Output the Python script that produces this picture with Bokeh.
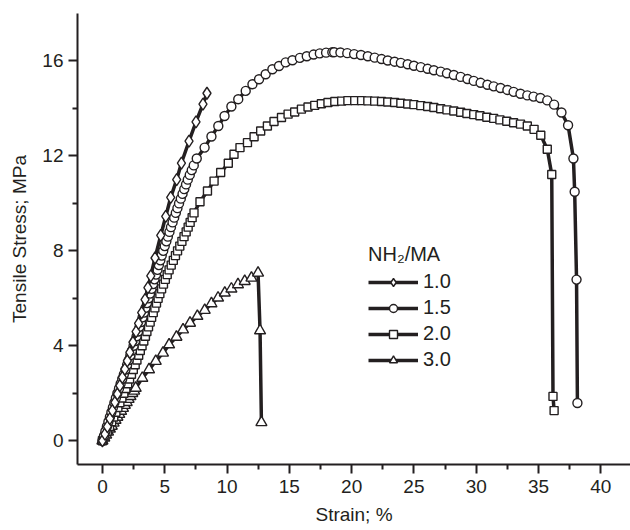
from bokeh.plotting import figure
from bokeh.models import FixedTicker, Range1d, Legend, LegendItem
from bokeh.embed import file_html
from bokeh.resources import INLINE

# ---------------- data ----------------
series_labels = ["1.0", "1.5", "2.0", "3.0"]
legend_title = "NH\u2082/MA"
x_label = "Strain; %"
y_label = "Tensile Stress; MPa"
x_ticks = [0, 5, 10, 15, 20, 25, 30, 35, 40]
x_minor_ticks = [2.5, 7.5, 12.5, 17.5, 22.5, 27.5, 32.5, 37.5]
y_ticks = [0, 4, 8, 12, 16]
y_minor_ticks = [2, 6, 10, 14]

strain_10 = [0, 0.2, 0.4, 0.6, 0.8, 1.0, 1.2, 1.4, 1.6, 1.8, 2.0, 2.2, 2.45, 2.7, 2.9, 3.15,
             3.42, 3.65, 3.88, 4.22, 4.68, 5.08, 5.48, 5.96, 6.34, 6.95, 7.51, 8.07, 8.39]
stress_10 = [0, 0.28, 0.6, 0.93, 1.27, 1.62, 1.97, 2.32, 2.67, 3.02, 3.37, 3.72, 4.15, 4.6, 4.95, 5.4,
             5.95, 6.45, 6.95, 7.7, 8.65, 9.45, 10.25, 11.0, 11.7, 12.62, 13.43, 14.18, 14.64]

strain_15 = [0, 0.12, 0.24, 0.36, 0.48, 0.6, 0.72, 0.84, 0.96, 1.08,
             1.2, 1.33, 1.46, 1.59, 1.72, 1.85, 1.98, 2.11, 2.24, 2.37,
             2.5, 2.62, 2.74, 2.86, 2.98, 3.1, 3.22, 3.34, 3.46, 3.58,
             3.7, 3.82, 3.94, 4.06, 4.18, 4.3, 4.42, 4.53, 4.65, 4.76,
             4.88, 5.0, 5.13, 5.25, 5.38, 5.5, 5.63, 5.76, 5.89, 6.02,
             6.15, 6.29, 6.43, 6.57, 6.71, 6.85, 7.01, 7.17, 7.33, 7.57,
             8.2, 8.75, 9.3, 9.8, 10.35, 10.9, 11.5, 12.04, 12.57, 13.1,
             13.64, 14.17, 14.71, 15.25, 15.85, 16.4, 16.95, 17.45, 17.95, 18.45,
             18.6, 19.1, 19.65, 20.2, 20.75, 21.3, 21.85, 22.4, 22.9, 23.45,
             23.95, 24.5, 25.0, 25.55, 26.1, 26.6, 27.15, 27.65, 28.2, 28.75,
             29.3, 29.8, 30.35, 30.9, 31.4, 31.95, 32.5, 33.0, 33.55, 34.1,
             34.6, 35.15, 35.7, 36.25, 36.84, 37.37, 37.8, 37.9, 38.05, 38.12]
stress_15 = [0, 0.2, 0.4, 0.6, 0.8, 1.0, 1.2, 1.4, 1.6, 1.8,
             2.0, 2.2, 2.4, 2.6, 2.8, 3.0, 3.2, 3.4, 3.6, 3.8,
             4.0, 4.2, 4.4, 4.6, 4.8, 5.0, 5.2, 5.4, 5.6, 5.8,
             6.0, 6.2, 6.4, 6.6, 6.8, 7.0, 7.2, 7.4, 7.6, 7.8,
             8.0, 8.2, 8.4, 8.6, 8.8, 9.0, 9.2, 9.4, 9.6, 9.8,
             10.0, 10.2, 10.4, 10.6, 10.8, 11.0, 11.2, 11.4, 11.6, 11.89,
             12.35, 12.82, 13.26, 13.68, 14.08, 14.39, 14.74, 15.02, 15.23, 15.44,
             15.65, 15.79, 15.94, 16.03, 16.13, 16.2, 16.27, 16.32, 16.35, 16.37,
             16.37, 16.36, 16.33, 16.29, 16.25, 16.2, 16.14, 16.08, 16.02, 15.97,
             15.92, 15.86, 15.8, 15.74, 15.67, 15.61, 15.55, 15.48, 15.41, 15.33,
             15.24, 15.16, 15.08, 15.0, 14.93, 14.86, 14.78, 14.7, 14.62, 14.55,
             14.5, 14.44, 14.34, 14.16, 13.83, 13.29, 11.89, 10.49, 6.79, 1.59]

strain_20 = [0, 0.2, 0.39, 0.57, 0.74, 0.91, 1.08, 1.24, 1.4, 1.56,
             1.72, 1.88, 2.03, 2.18, 2.33, 2.48, 2.63, 2.77, 2.91, 3.04,
             3.18, 3.32, 3.45, 3.57, 3.7, 3.83, 3.95, 4.08, 4.21, 4.34,
             4.47, 4.61, 4.75, 4.9, 5.05, 5.2, 5.35, 5.52, 5.69, 5.86,
             6.03, 6.21, 6.38, 6.55, 6.72, 6.88, 7.04, 7.2, 7.35,
             7.83, 8.43, 8.96, 9.49, 10.1, 10.56, 11.04, 11.64, 12.17, 12.7,
             13.24, 13.77, 14.37, 14.9, 15.43, 15.97, 16.5, 17.04, 17.57, 18.1,
             18.65, 19.2, 19.7, 20.25, 20.8, 21.3, 21.85, 22.4, 22.9, 23.45,
             23.95, 24.5, 25.0, 25.55, 26.1, 26.6, 27.15, 27.65, 28.2, 28.75,
             29.25, 29.8, 30.3, 30.85, 31.4, 31.9, 32.45, 33.0, 33.55, 34.1,
             34.64, 35.18, 35.7, 36.06, 36.16, 36.25]
stress_20 = [0, 0.2, 0.4, 0.6, 0.8, 1.0, 1.2, 1.4, 1.6, 1.8,
             2.0, 2.2, 2.4, 2.6, 2.8, 3.0, 3.2, 3.4, 3.6, 3.8,
             4.0, 4.2, 4.4, 4.6, 4.8, 5.0, 5.2, 5.4, 5.6, 5.8,
             6.0, 6.2, 6.4, 6.6, 6.8, 7.0, 7.2, 7.4, 7.6, 7.8,
             8.0, 8.2, 8.4, 8.6, 8.8, 9.0, 9.2, 9.4, 9.6,
             10.07, 10.52, 10.94, 11.3, 11.69, 12.07, 12.35, 12.56, 12.81, 13.05,
             13.26, 13.45, 13.62, 13.76, 13.85, 13.97, 14.06, 14.13, 14.2, 14.25,
             14.29, 14.31, 14.33, 14.33, 14.33, 14.32, 14.31, 14.29, 14.27, 14.25,
             14.22, 14.19, 14.16, 14.12, 14.08, 14.04, 13.99, 13.94, 13.89, 13.84,
             13.79, 13.74, 13.69, 13.63, 13.58, 13.52, 13.46, 13.4, 13.34, 13.26,
             13.12, 12.87, 12.28, 11.22, 1.87, 1.27]

strain_30 = [0, 0.15, 0.3, 0.45, 0.6, 0.75, 0.9, 1.05, 1.2, 1.35, 1.5, 1.65, 1.8, 1.95, 2.1,
             2.25, 2.4, 2.55,
             2.67, 3.2, 3.74, 4.28, 4.86, 5.35, 5.94, 6.47, 7.03, 7.62,
             8.21, 8.75, 9.28, 9.82, 10.35, 10.88, 11.42, 11.96, 12.49, 12.65, 12.76]
stress_30 = [0, 0.12, 0.25, 0.37, 0.5, 0.62, 0.75, 0.87, 1.0, 1.12, 1.25, 1.37, 1.5, 1.62, 1.75,
             1.87, 2.0, 2.1,
             2.22, 2.64, 3.0, 3.35, 3.7, 4.05, 4.37, 4.68, 4.96, 5.25,
             5.5, 5.78, 6.02, 6.23, 6.4, 6.58, 6.72, 6.86, 7.07, 4.64, 0.77]

# ---------------- figure ----------------
INK = "#231f20"
FONT = "Liberation Sans"

p = figure(width=630, height=530, output_backend="svg", toolbar_location=None,
           x_range=Range1d(-2, 42.38), y_range=Range1d(-1, 18),
           min_border_left=77, min_border_right=0, min_border_top=13, min_border_bottom=66)
p.outline_line_color = None
p.xgrid.visible = False
p.ygrid.visible = False

for ax in (p.xaxis[0], p.yaxis[0]):
    ax.axis_line_width = 2
    ax.axis_line_color = INK
    ax.major_tick_line_width = 2
    ax.minor_tick_line_width = 2
    ax.major_tick_line_color = INK
    ax.minor_tick_line_color = INK
    ax.major_tick_in = 0
    ax.major_tick_out = 9
    ax.minor_tick_in = 0
    ax.minor_tick_out = 5
    ax.major_label_text_font = FONT
    ax.major_label_text_font_size = "19px"
    ax.major_label_text_color = INK
    ax.axis_label_text_font = FONT
    ax.axis_label_text_font_size = "19px"
    ax.axis_label_text_font_style = "normal"
    ax.axis_label_text_color = INK

p.xaxis.ticker = FixedTicker(ticks=x_ticks, minor_ticks=x_minor_ticks)
p.yaxis.ticker = FixedTicker(ticks=y_ticks, minor_ticks=y_minor_ticks)
p.xaxis.axis_label = x_label
p.yaxis.axis_label = y_label
p.xaxis.major_label_standoff = 6
p.yaxis.major_label_standoff = 5
p.xaxis.axis_label_standoff = 8
p.yaxis.axis_label_standoff = 9

series = [
    (strain_30, stress_30, "triangle", 11, 3),
    (strain_20, stress_20, "square", 8, 2),
    (strain_15, stress_15, "circle", 9, 1),
    (strain_10, stress_10, "diamond", 12, 0),
]
items = [None] * 4
for xs, ys, marker, size, idx in series:
    lr = p.line(xs, ys, line_color=INK, line_width=3.5)
    sr = p.scatter(xs, ys, marker=marker, size=size,
                   fill_color="white", line_color=INK, line_width=1.4)
    items[idx] = LegendItem(label=series_labels[idx], renderers=[lr, sr])

legend = Legend(items=items, title=legend_title, location=(291, 93),
                border_line_color=None, background_fill_alpha=0,
                label_text_font=FONT, label_text_font_size="20px", label_text_color=INK,
                title_text_font=FONT, title_text_font_size="20px", title_text_font_style="normal",
                title_text_color=INK,
                glyph_width=50, glyph_height=20, label_height=20, label_standoff=5,
                spacing=3, padding=0, margin=0, title_standoff=4)
p.add_layout(legend)

open("out.html", "w").write(file_html(p, INLINE))
